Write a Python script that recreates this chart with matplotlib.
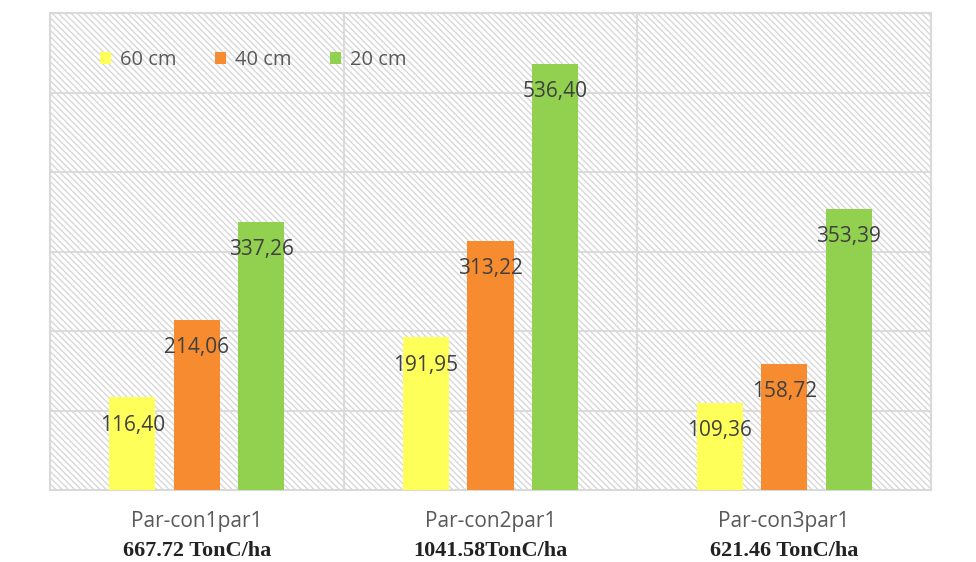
import matplotlib
matplotlib.use("Agg")
import matplotlib.pyplot as plt
from matplotlib.patches import Patch
from matplotlib.collections import LineCollection
import numpy as np

# Soil carbon by depth for each plot
plots = ["Par-con1par1", "Par-con2par1", "Par-con3par1"]
totals = ["667.72 TonC/ha", "1041.58TonC/ha", "621.46 TonC/ha"]
depths = ["60 cm", "40 cm", "20 cm"]
carbon_60 = [116.40, 191.95, 109.36]
carbon_40 = [214.06, 313.22, 158.72]
carbon_20 = [337.26, 536.40, 353.39]
colors = ["#FFFF5A", "#F68B2F", "#92D050"]

grid_col = "#d9d9d9"
W, H = 976, 562
ax_px = (50, 72, 881, 477)  # left, bottom, width, height in pixels

fig = plt.figure(figsize=(W / 100, H / 100), dpi=100)
ax = fig.add_axes([ax_px[0] / W, ax_px[1] / H, ax_px[2] / W, ax_px[3] / H])

# diagonal hatch pattern over the plot background (45 degrees, ~6.3 px pitch)
aw, ah = ax_px[2], ax_px[3]
pitch = 6.3
starts = np.arange(-ah, aw + pitch, pitch)
segs = [[(s / aw, 1.0), ((s + ah) / aw, 0.0)] for s in starts]
hatch = LineCollection(segs, colors="#d8d8d8", linewidths=1.0,
                       transform=ax.transAxes, zorder=0.5)
ax.add_collection(hatch)

x = np.arange(len(plots))
width = 0.157
offsets = [-0.22, 0.0, 0.22]
series = [carbon_60, carbon_40, carbon_20]

for vals, off, col in zip(series, offsets, colors):
    ax.bar(x + off, vals, width, color=col, zorder=3)
    for xi, v in zip(x + off, vals):
        ax.annotate(f"{v:.2f}".replace(".", ","), xy=(xi, v), xytext=(0, -20),
                    textcoords="offset points", ha="center", va="center",
                    fontsize=15, family="Open Sans", color="#404040", zorder=4)

ax.set_xlim(-0.5, 2.5)
ax.set_ylim(0, 600)
ax.set_yticks(np.arange(0, 601, 100))
ax.tick_params(axis="y", left=False, labelleft=False)
for y in np.arange(100, 600, 100):
    ax.axhline(y, color=grid_col, lw=1.3, zorder=1)
for xb in [0.5, 1.5]:
    ax.axvline(xb, color=grid_col, lw=1.3, zorder=1)
for s in ax.spines.values():
    s.set_color(grid_col)
    s.set_linewidth(1.5)

ax.set_xticks(x)
ax.set_xticklabels(plots, family="Open Sans", fontsize=15, color="#595959")
ax.tick_params(axis="x", length=0, pad=15)

for xi, t in zip(x, totals):
    ax.annotate(t, xy=(xi, 0), xycoords=("data", "axes fraction"),
                xytext=(0, -44), textcoords="offset points",
                ha="center", va="center", family="Liberation Serif",
                fontsize=16, fontweight="bold", color="#222222")

handles = [Patch(facecolor=c, edgecolor="none") for c in colors]
leg = ax.legend(handles, depths, loc="upper left", bbox_to_anchor=(0.057, 0.922),
                ncol=3, frameon=False, borderaxespad=0, borderpad=0,
                handlelength=0.55, handleheight=0.55, handletextpad=0.45,
                columnspacing=1.9, prop={"family": "Open Sans", "size": 14.5})
for t in leg.get_texts():
    t.set_color("#595959")

fig.savefig("out.png", dpi=100, facecolor="white")
